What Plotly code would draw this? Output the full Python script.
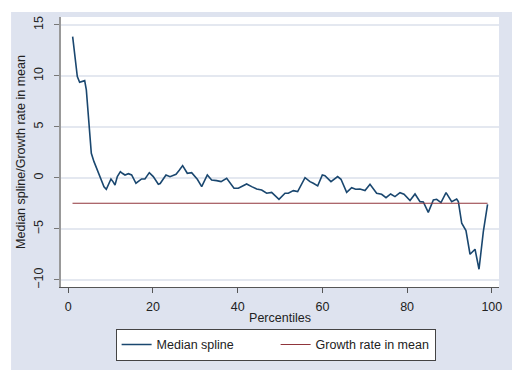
import plotly.graph_objects as go

# Median spline readings (percentile, value)
pct = [1.03, 1.58, 2.13, 2.68, 3.47, 3.87, 4.26, 4.65, 5.05, 5.44, 6.07, 6.86, 7.64, 8.43, 8.98,
       9.61, 10.08, 10.55, 11.03, 11.58, 12.3, 12.76, 13.39, 14.2, 14.96, 15.98, 17.32, 18.1, 19.13,
       20.07, 21.26, 21.7, 23.07, 24.02, 25.44, 26.2, 27.0, 28.1, 29.13, 30.47, 31.5, 32.83, 33.85,
       35.04, 36.07, 37.4, 39.13, 40.15, 40.54, 42.11, 43.3, 44.48, 45.66, 46.84, 48.02, 49.75,
       51.17, 51.96, 53.14, 54.16, 55.9, 57.07, 57.86, 58.89, 59.99, 60.6, 62.03, 63.6, 64.39,
       65.73, 66.91, 67.85, 68.87, 70.06, 71.24, 72.81, 73.99, 75.02, 76.12, 77.14, 78.32, 79.27,
       80.69, 81.87, 83.05, 83.83, 85.0, 86.2, 86.98, 88.0, 89.2, 90.53, 91.7, 92.1, 92.9, 93.9,
       94.86, 96.04, 96.98, 98.0, 99.0]
median_spline = [13.86, 11.57, 9.93, 9.38, 9.54, 9.54, 8.63, 6.67, 4.05, 2.42, 1.6, 0.78, -0.04,
                 -0.86, -1.12, -0.53, -0.1, -0.36, -0.69, 0.13, 0.62, 0.46, 0.29, 0.42, 0.29, -0.52,
                 -0.1, -0.1, 0.52, 0.13, -0.62, -0.55, 0.29, 0.13, 0.36, 0.75, 1.21, 0.46, 0.52,
                 -0.13, -0.85, 0.29, -0.2, -0.26, -0.36, -0.03, -1.01, -1.01, -0.92, -0.59, -0.85,
                 -1.08, -1.18, -1.5, -1.41, -2.09, -1.5, -1.5, -1.24, -1.34, 0.03, -0.36, -0.52,
                 -0.78, 0.29, 0.23, -0.36, 0.13, -0.13, -1.41, -0.95, -1.11, -1.08, -1.24, -0.62,
                 -1.5, -1.6, -1.93, -1.57, -1.83, -1.44, -1.6, -2.22, -1.57, -2.32, -2.35, -3.37,
                 -2.16, -2.09, -2.42, -1.44, -2.32, -2.06, -2.32, -4.44, -5.16, -7.48, -6.99,
                 -8.95, -5.26, -2.58]

growth_x = [1, 99]
growth_rate = [-2.48, -2.48]

y_ticks = [-10, -5, 0, 5, 10, 15]
x_ticks = [0, 20, 40, 60, 80, 100]

BG = "#DEE3EF"
FONT = "Liberation Sans, Arial, sans-serif"

fig = go.Figure()
fig.add_trace(go.Scatter(x=pct, y=median_spline, mode="lines", name="Median spline",
                         line=dict(color="#1a476f", width=1.6)))
fig.add_trace(go.Scatter(x=growth_x, y=growth_rate, mode="lines", name="Growth rate in mean",
                         line=dict(color="#90353b", width=1.2)))

fig.update_layout(
    width=512, height=370,
    margin=dict(l=61, r=13, t=17, b=83, autoexpand=False),
    paper_bgcolor=BG,
    plot_bgcolor="white",
    font=dict(family=FONT, size=12.5, color="#222"),
    showlegend=True,
    legend=dict(orientation="h", x=0.49, xanchor="center", y=-0.155, yanchor="top",
                bgcolor="white", bordercolor="#444", borderwidth=1,
                font=dict(size=12.5), entrywidth=114, tracegroupgap=0),
    xaxis=dict(range=[-1.72, 101.7], tickvals=x_ticks, showgrid=False, zeroline=False,
               showline=True, linecolor="#555", linewidth=1,
               ticks="outside", ticklen=5, tickcolor="#555", ticklabelstandoff=3,
               automargin=False,
               title=dict(text="Percentiles", standoff=0, font=dict(size=12.5))),
    yaxis=dict(range=[-10.69, 15.78], tickvals=y_ticks, showgrid=True, gridcolor="#E4E8F0",
               gridwidth=1.5, zeroline=False, showline=True, linecolor="#999", linewidth=1.5,
               ticks="outside", ticklen=5, tickcolor="#777", tickangle=-90,
               ticklabelstandoff=6, automargin=False,
               title=dict(text="Median spline/Growth rate in mean", standoff=4,
                          font=dict(size=12.5))),
    shapes=[
        dict(type="rect", xref="paper", yref="paper", x0=-0.2, x1=1.1, y0=1.0185, y1=1.2,
             fillcolor="white", line=dict(width=0), layer="above"),
        dict(type="rect", xref="paper", yref="paper", x0=-0.2, x1=-0.114, y0=-0.4, y1=1.2,
             fillcolor="white", line=dict(width=0), layer="above"),
    ],
)

fig.write_html("out.html",
               config={"displayModeBar": False},
               post_script="document.body.style.margin='0';document.body.style.padding='0';"
                           "document.body.style.overflow='hidden';")
